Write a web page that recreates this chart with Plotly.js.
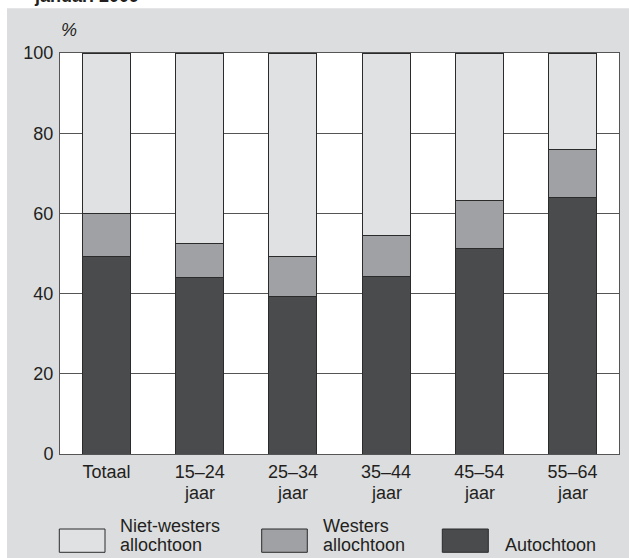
<!DOCTYPE html>
<html>
<head>
<meta charset="utf-8">
<script src="https://cdn.plot.ly/plotly-3.0.1.min.js"></script>
<style>
  html, body { margin: 0; padding: 0; background: #ffffff; }
  #chart { width: 629px; height: 558px; }
</style>
</head>
<body>
<div id="chart"></div>
<script>
// ---- data ----
var categories = ["Totaal", "15–24", "25–34", "35–44", "45–54", "55–64"];
var subLabels = ["", "jaar", "jaar", "jaar", "jaar", "jaar"];
var autochtoon = [49.2, 44.1, 39.3, 44.3, 51.2, 63.9];
var westers = [10.8, 8.4, 9.9, 10.3, 12.0, 12.0];
var nietWesters = [40.0, 47.5, 50.8, 45.4, 36.8, 24.1];
var seriesNames = ["Autochtoon", "Westers allochtoon", "Niet-westers allochtoon"];
var legendLines = [["Niet-westers", "allochtoon"], ["Westers", "allochtoon"], ["", "Autochtoon"]];
var yTicks = [0, 20, 40, 60, 80, 100];
var titleText = "januari 2009";
var unitText = "%";

// ---- styling ----
var colors = { auto: "#4a4b4d", west: "#a0a1a4", niet: "#e0e1e3" };
var outline = "#2b2b2b";
var bg = "#dcdddf";
var textColor = "#231f20";
var fontFam = "'Liberation Sans', Arial, Helvetica, sans-serif";
var FS = 18;

var M = { l: 60, r: 10, t: 53, b: 104 };
var W = 629 - M.l - M.r, H = 558 - M.t - M.b;
function px2x(px) { return (px - M.l) / W; }
function px2y(py) { return (558 - M.b - py) / H; }

var barLine = { color: outline, width: 1 };
var traces = [
  { type: "bar", name: seriesNames[0], x: categories, y: autochtoon,
    marker: { color: colors.auto, line: barLine } },
  { type: "bar", name: seriesNames[1], x: categories, y: westers,
    marker: { color: colors.west, line: barLine } },
  { type: "bar", name: seriesNames[2], x: categories, y: nietWesters,
    marker: { color: colors.niet, line: barLine } }
];

var shapes = [
  { type: "rect", xref: "paper", yref: "paper", layer: "below",
    x0: px2x(7), x1: px2x(640), y0: px2y(8.3), y1: px2y(570),
    fillcolor: bg, line: { width: 0 } },
  { type: "rect", xref: "paper", yref: "paper", layer: "below",
    x0: 0, x1: 1, y0: 0, y1: 1, fillcolor: "#ffffff", line: { width: 0 } }
];

var legendBoxes = [[59.3, 105], [261.7, 307.3], [442.3, 488.3]];
var legendFills = [colors.niet, colors.west, colors.auto];
var legendTextX = [119, 321.7, 504];
legendBoxes.forEach(function (b, i) {
  shapes.push({ type: "rect", xref: "paper", yref: "paper",
    x0: px2x(b[0]), x1: px2x(b[1]), y0: px2y(552.3), y1: px2y(529),
    fillcolor: legendFills[i], line: { color: outline, width: 1 } });
});

var annFont = { family: fontFam, size: FS, color: textColor };
var annotations = [];
// partial title at top
annotations.push({ xref: "paper", yref: "paper", x: px2x(32), y: px2y(8),
  xanchor: "left", yanchor: "bottom", showarrow: false, text: titleText,
  font: { family: fontFam, size: FS, color: textColor, weight: "bold" } });
// unit label
annotations.push({ xref: "paper", yref: "paper", x: px2x(59), y: px2y(30),
  xanchor: "left", yanchor: "middle", showarrow: false,
  text: "<i>" + unitText + "</i>", font: annFont });
// second line of category labels
categories.forEach(function (c, i) {
  if (subLabels[i]) {
    annotations.push({ xref: "x", yref: "paper", x: c, y: px2y(492.5),
      xanchor: "center", yanchor: "middle", showarrow: false,
      text: subLabels[i], font: annFont });
  }
});
// legend text
legendLines.forEach(function (lines, i) {
  var baselines = [531.7, 551];
  lines.forEach(function (t, j) {
    if (!t) return;
    annotations.push({ xref: "paper", yref: "paper", x: px2x(legendTextX[i] - 1),
      y: px2y(baselines[j] - 6.2), xanchor: "left", yanchor: "middle",
      showarrow: false, text: t, font: annFont });
  });
});

var layout = {
  width: 629, height: 558,
  margin: M,
  barmode: "stack",
  bargap: 0.485,
  showlegend: false,
  paper_bgcolor: "#ffffff",
  plot_bgcolor: "#ffffff",
  font: { family: fontFam, size: FS, color: textColor },
  xaxis: {
    type: "category", tickvals: categories, ticktext: categories,
    showgrid: false, zeroline: false, ticks: "", ticklabelstandoff: 1,
    showline: true, linecolor: "#555555", linewidth: 1, mirror: true,
    tickfont: { family: fontFam, size: FS, color: textColor }
  },
  yaxis: {
    range: [0, 100], tickvals: yTicks, ticktext: yTicks.map(String),
    showgrid: true, gridcolor: "#555555", gridwidth: 1.2,
    zeroline: false, ticks: "", ticklabelstandoff: 2,
    showline: true, linecolor: "#555555", linewidth: 1, mirror: true,
    tickfont: { family: fontFam, size: FS, color: textColor }
  },
  shapes: shapes,
  annotations: annotations
};

Plotly.newPlot("chart", traces, layout, { displayModeBar: false, staticPlot: true });
</script>
</body>
</html>
